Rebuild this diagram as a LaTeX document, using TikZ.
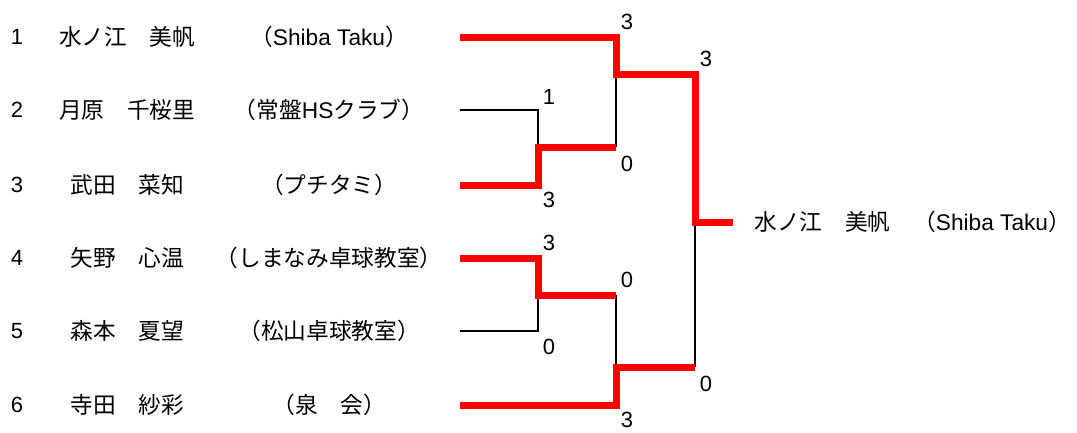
\documentclass[tikz,border=0pt]{standalone}
\usepackage{fontspec}
\setmainfont{Liberation Sans}
\newfontfamily\jpfont{Noto Sans CJK JP}
\newcommand{\lat}[1]{{\rmfamily #1}}
\begin{document}
\begin{tikzpicture}[x=0.75pt,y=-0.75pt,
 win/.style={draw=red,line width=5.25pt,line join=miter},
 lose/.style={draw=black,line width=1.6pt},
 score/.style={inner sep=0pt,font=\fontsize{16.5}{18}\selectfont},
 entry/.style={inner sep=0pt,font=\jpfont\fontsize{17}{20}\selectfont}]
 \useasboundingbox (0,0) rectangle (1077,432);
 \node[score] (n1) at (17,37) {1};
 \node[score] (n2) at (17,110) {2};
 \node[score] (n3) at (17,185) {3};
 \node[score] (n4) at (17,258) {4};
 \node[score] (n5) at (17,331) {5};
 \node[score] (n6) at (17,405) {6};
 \node[entry] (name1) at (127,37) {水ノ江　美帆};
 \node[entry] (name2) at (127,110) {月原　千桜里};
 \node[entry] (name3) at (127,185) {武田　菜知};
 \node[entry] (name4) at (127,258) {矢野　心温};
 \node[entry] (name5) at (127,331) {森本　夏望};
 \node[entry] (name6) at (127,405) {寺田　紗彩};
 \node[entry] (club1) at (329,37) {（\lat{Shiba Taku}）};
 \node[entry] (club2) at (329,110) {（常盤\lat{HS}クラブ）};
 \node[entry] (club3) at (329,185) {（プチタミ）};
 \node[entry] (club4) at (329,258) {（しまなみ卓球教室）};
 \node[entry] (club5) at (329,331) {（松山卓球教室）};
 \node[entry] (club6) at (329,405) {（泉　会）};
 \coordinate (s1) at (460,37);
 \coordinate (s2) at (460,110);
 \coordinate (s3) at (460,185);
 \coordinate (s4) at (460,258);
 \coordinate (s5) at (460,331);
 \coordinate (s6) at (460,405);
 \coordinate (j23) at (538,147);
 \coordinate (j45) at (538,295);
 \coordinate (j123) at (616,74);
 \coordinate (j456) at (616,367);
 \coordinate (jf) at (695,222);
 \coordinate (w) at (733,222);
 \draw[lose] (s2) -| (j23);
 \draw[lose] (s5) -| (j45);
 \draw[lose] (j123) -- (j123 |- j23);
 \draw[lose] (j456 |- j45) -- (j456);
 \draw[lose] (jf) -- (jf |- j456);
 \draw[win] (s1) -| (j123) -| (jf) -- (w);
 \draw[win] (s3) -| (j23) -- (j123 |- j23);
 \draw[win] (s4) -| (j45) -- (j456 |- j45);
 \draw[win] (s6) -| (j456) -- (jf |- j456);
 \node[score] (sc1) at (627,22) {3};
 \node[score] (sc2) at (549,97) {1};
 \node[score] (sc3) at (549,200) {3};
 \node[score] (sc4) at (549,243) {3};
 \node[score] (sc5) at (549,347) {0};
 \node[score] (sc6) at (627,420) {3};
 \node[score] (sc23) at (627,164) {0};
 \node[score] (sc45) at (627,280) {0};
 \node[score] (sc123) at (706,59) {3};
 \node[score] (sc456) at (706,384) {0};
 \node[entry,anchor=east] (champ) at (1071,222) {水ノ江　美帆　（\lat{Shiba Taku}）};
\end{tikzpicture}
\end{document}
